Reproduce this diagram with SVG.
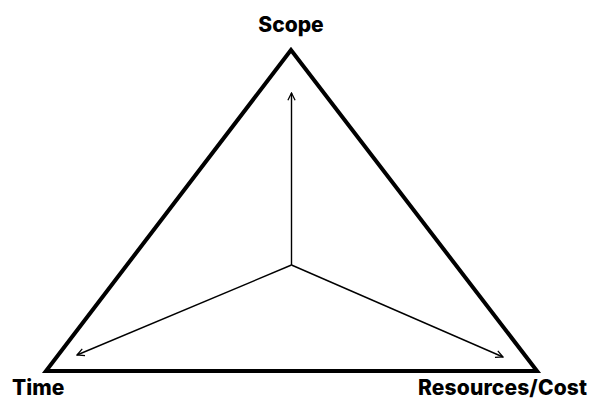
<svg xmlns="http://www.w3.org/2000/svg" width="591" height="399" viewBox="0 0 591 399">
<defs>
<style>
.lbl{font-family:Inter,"Liberation Sans",sans-serif;font-weight:800;font-size:21px;fill:#000}
.ax{stroke:#000;stroke-width:1.4;fill:none;marker-end:url(#ah)}
</style>
<marker id="ah" viewBox="0 0 10 10" refX="9" refY="5" markerWidth="9" markerHeight="9" markerUnits="userSpaceOnUse" orient="auto">
<path d="M1,1 L9,5 L1,9" fill="none" stroke="#000" stroke-width="1.4"/>
</marker>
</defs>
<rect width="591" height="399" fill="#fff"/>
<g id="triangle">
<polygon points="291,50 46,371 537,371" fill="none" stroke="#000" stroke-width="4" stroke-linejoin="miter"/>
</g>
<g id="connectors">
<line class="ax" x1="291.5" y1="265" x2="291.5" y2="93"/>
<line class="ax" x1="291.5" y1="265" x2="77" y2="355"/>
<line class="ax" x1="291.5" y1="265" x2="503" y2="357"/>
</g>
<g id="scope"><text class="lbl" x="291" y="32" text-anchor="middle">Scope</text></g>
<g id="time"><text class="lbl" x="12" y="395">Time</text></g>
<g id="resources"><text class="lbl" x="418" y="395" textLength="169" lengthAdjust="spacing">Resources/Cost</text></g>
</svg>
